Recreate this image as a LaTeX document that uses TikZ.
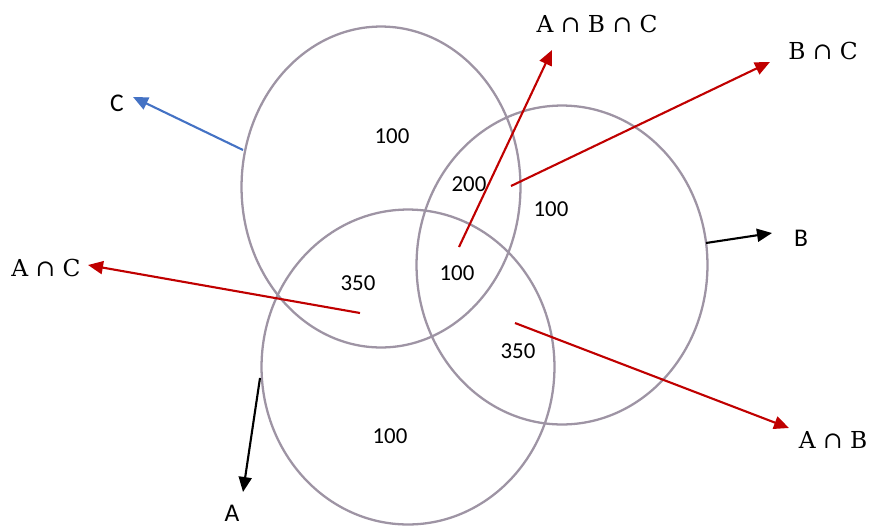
\documentclass[tikz,border=0pt]{standalone}
\usepackage{fontspec}
\setmainfont{Carlito}
\newfontfamily\capfont{DejaVu Serif}
\usetikzlibrary{arrows.meta,shapes.geometric}

\definecolor{setline}{RGB}{158,148,164}
\definecolor{capred}{RGB}{192,0,0}
\definecolor{setblue}{RGB}{68,114,196}

\begin{document}
\begin{tikzpicture}[
  x=0.02cm,y=-0.02cm,
  setshape/.style={draw=setline,ellipse,line width=1.3pt,inner sep=0pt,outer sep=0pt},
  countlabel/.style={font=\fontsize{13}{15}\selectfont},
  setlabel/.style={font=\fontsize{14.5}{16}\selectfont},
  caplabel/.style={font=\capfont\fontsize{13.3}{15}\selectfont},
  pointer/.style={-{Triangle[length=3mm,width=2.6mm]},line width=1.2pt}
]
  \useasboundingbox (0,0) rectangle (869,525);

  % the three sets
  \node[setshape,minimum width=5.58cm,minimum height=6.42cm] (setC) at (381,187) {};
  \node[setshape,minimum width=5.86cm,minimum height=6.3cm] (setA) at (408,367) {};
  \node[setshape,minimum width=5.82cm,minimum height=6.38cm] (setB) at (562,265) {};

  % region counts
  \node[countlabel] (onlyC) at (392,136) {100};
  \node[countlabel] (regBC) at (469,184) {200};
  \node[countlabel] (onlyB) at (551,209) {100};
  \node[countlabel] (regAC) at (358,283) {350};
  \node[countlabel] (regABC) at (457,273) {100};
  \node[countlabel] (regAB) at (518,351) {350};
  \node[countlabel] (onlyA) at (390,436) {100};

  % labels
  \node[setlabel] (labC) at (117,103) {C};
  \node[setlabel] (labB) at (801,238) {B};
  \node[setlabel] (labA) at (232,513) {A};
  \node[caplabel] (labABC) at (597,24) {A ∩ B ∩ C};
  \node[caplabel] (labBC) at (823,51) {B ∩ C};
  \node[caplabel] (labAC) at (46,268) {A ∩ C};
  \node[caplabel] (labAB) at (833,440) {A ∩ B};

  % pointer ends
  \coordinate (fromC) at (243,150);   \coordinate (toC) at (133,97);
  \coordinate (fromB) at (706,243);   \coordinate (toB) at (772,233);
  \coordinate (fromA) at (260,378);   \coordinate (toA) at (243,492);
  \coordinate (fromABC) at (459,247); \coordinate (toABC) at (552,50);
  \coordinate (fromBC) at (511,186);  \coordinate (toBC) at (770,62);
  \coordinate (fromAC) at (360,313);  \coordinate (toAC) at (88,265);
  \coordinate (fromAB) at (515,323);  \coordinate (toAB) at (789,428);

  \draw[pointer,setblue] (fromC) -- (toC);
  \draw[pointer,black] (fromB) -- (toB);
  \draw[pointer,black] (fromA) -- (toA);
  \draw[pointer,capred] (fromABC) -- (toABC);
  \draw[pointer,capred] (fromBC) -- (toBC);
  \draw[pointer,capred] (fromAC) -- (toAC);
  \draw[pointer,capred] (fromAB) -- (toAB);
\end{tikzpicture}
\end{document}
